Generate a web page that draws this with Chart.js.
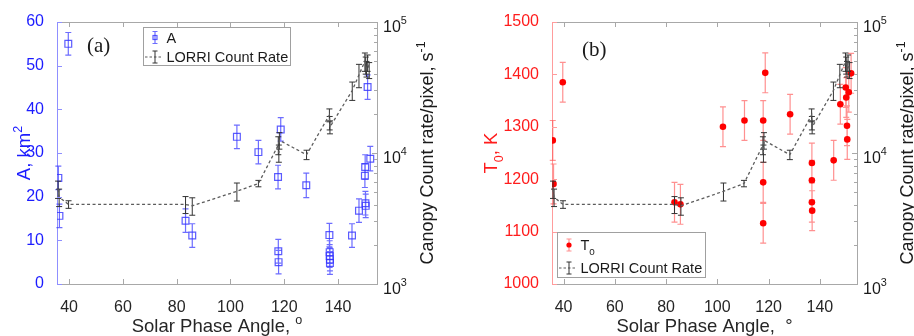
<!DOCTYPE html>
<html>
<head>
<meta charset="utf-8">
<title>Canopy fits vs solar phase angle</title>
<script src="https://cdn.jsdelivr.net/npm/chart.js@4.4.1/dist/chart.umd.min.js"></script>
<style>
  body { margin: 0; background: #fff; }
  #row { display: flex; width: 914px; height: 336px; }
  canvas { display: block; }
</style>
</head>
<body>
<div id="row">
  <canvas id="chartA" width="457" height="336"></canvas>
  <canvas id="chartB" width="457" height="336"></canvas>
</div>
<script>
'use strict';

// fitted area A (km^2) and its error, per solar phase angle (deg)
const aPhase = [36.0, 36.4, 39.7, 83.3, 85.8, 102.4, 110.4, 117.7, 117.8, 117.9, 118.7, 128.2,
  136.8, 136.9, 136.9, 137.0, 137.0, 145.2, 147.8, 150.0, 150.1, 150.2, 150.3, 151.0, 152.0];
const aValues = [24.3, 15.6, 55.0, 14.5, 11.1, 33.7, 30.2, 24.5, 7.5, 5.0, 35.4, 22.6,
  11.2, 7.3, 6.4, 5.6, 4.8, 11.1, 16.8, 24.8, 26.8, 18.5, 17.9, 45.1, 28.7];
const aErr = [2.7, 2.7, 2.6, 2.7, 2.7, 2.7, 2.7, 2.7, 2.7, 2.7, 2.7, 2.8,
  2.7, 2.6, 2.6, 2.6, 2.6, 2.7, 2.7, 2.7, 2.8, 2.7, 2.7, 2.8, 2.8];

// fitted temperature T0 (K) and its error
const tPhase = [35.8, 36.1, 39.7, 83.3, 85.6, 102.2, 110.6, 117.9, 117.9, 117.9, 118.7, 128.4,
  136.9, 136.9, 136.9, 137.0, 145.4, 148.0, 150.1, 150.3, 150.6, 150.7, 151.3, 152.2];
const tValues = [1274, 1191, 1385, 1156, 1152, 1300, 1312, 1312, 1194, 1116, 1403, 1324,
  1231, 1198, 1156, 1140, 1236, 1343, 1375, 1356, 1302, 1276, 1366, 1402];
const tErr = [38, 38, 38, 38, 38, 38, 38, 38, 38, 38, 38, 38,
  38, 38, 38, 38, 38, 38, 38, 38, 38, 38, 38, 38];

// LORRI canopy count rate per pixel (s^-1)
const lorriPhase = [35.9, 36.3, 39.8, 83.3, 85.8, 102.4, 110.4, 117.8, 118.0, 118.2, 128.3,
  136.8, 136.9, 137.0, 145.3, 147.8, 150.0, 150.3, 150.6, 151.0, 151.6];
const lorriRate = [5300, 4600, 4050, 4050, 3950, 5100, 5850, 11500, 10000, 12500, 9700,
  19500, 17000, 15800, 30000, 39500, 50000, 47000, 44000, 49000, 43000];
const lorriErr = [800, 700, 270, 600, 600, 800, 330, 1800, 1500, 1800, 800,
  2200, 2000, 1800, 4800, 8000, 8000, 7000, 6000, 7000, 6000];

const xTicks = [40, 60, 80, 100, 120, 140];
const aTicks = [0, 10, 20, 30, 40, 50, 60];
const tTicks = [1000, 1100, 1200, 1300, 1400, 1500];
const rateTicks = [1e3, 1e4, 1e5];

const SANS = '"Liberation Sans", Arial, sans-serif';
const SERIF = '"Liberation Serif", "Times New Roman", serif';
const GREY = '#a8a8a8';

function points(xs, ys) {
  return xs.map((x, i) => ({ x: x, y: ys[i] }));
}

// text built from runs, some raised (sup) or lowered (sub)
function runSize(r, size) {
  return (r.sup || r.sub) ? size * 0.68 : size;
}
function runsWidth(ctx, runs, size) {
  let w = 0;
  runs.forEach(r => {
    ctx.font = runSize(r, size) + 'px ' + SANS;
    w += ctx.measureText(r.t).width;
  });
  return w;
}
function drawRuns(ctx, runs, x, y, size, color, align) {
  let cx = x;
  const w = runsWidth(ctx, runs, size);
  if (align === 'center') cx -= w / 2;
  else if (align === 'right') cx -= w;
  ctx.fillStyle = color;
  ctx.textAlign = 'left';
  ctx.textBaseline = 'alphabetic';
  runs.forEach(r => {
    ctx.font = runSize(r, size) + 'px ' + SANS;
    const dy = r.sup ? -size * 0.45 : r.sub ? size * 0.3 : 0;
    ctx.fillText(r.t, cx, y + dy);
    cx += ctx.measureText(r.t).width;
  });
}

function vbar(ctx, x, y1, y2, cap) {
  ctx.moveTo(x, y1); ctx.lineTo(x, y2);
  ctx.moveTo(x - cap, y1); ctx.lineTo(x + cap, y1);
  ctx.moveTo(x - cap, y2); ctx.lineTo(x + cap, y2);
}

// vertical error bars, drawn just under each dataset's own marks
const errorBars = {
  id: 'errorBars',
  beforeDatasetDraw(chart, args) {
    const ds = chart.data.datasets[args.index];
    if (!ds.errors) return;
    const ctx = chart.ctx;
    const xs = chart.scales.x, ys = chart.scales[ds.yAxisID];
    ctx.save();
    ctx.strokeStyle = ds.errColor;
    ctx.lineWidth = ds.errWidth || 1.2;
    ctx.beginPath();
    ds.data.forEach((p, i) => {
      const e = ds.errors[i];
      const px = xs.getPixelForValue(p.x);
      vbar(ctx, px, ys.getPixelForValue(p.y + e), ys.getPixelForValue(p.y - e), 3);
    });
    ctx.stroke();
    ctx.restore();
  }
};

function legendSymbol(ctx, ds, x, y) {
  ctx.save();
  if (ds.showLine) {
    ctx.strokeStyle = ds.borderColor;
    ctx.lineWidth = 1.2;
    ctx.setLineDash([2.5, 2]);
    ctx.beginPath();
    ctx.moveTo(x - 10, y); ctx.lineTo(x + 8, y);
    ctx.stroke();
    ctx.setLineDash([]);
  }
  ctx.strokeStyle = ds.errColor;
  ctx.lineWidth = ds.errWidth || 1.2;
  ctx.beginPath();
  vbar(ctx, x, y - 6, y + 6, 2.5);
  ctx.stroke();
  if (ds.pointStyle === 'rect') {
    ctx.strokeStyle = ds.borderColor;
    ctx.strokeRect(x - 2, y - 2, 4, 4);
  } else if (ds.pointRadius > 0) {
    ctx.fillStyle = ds.backgroundColor;
    ctx.beginPath();
    ctx.arc(x, y, 2.6, 0, Math.PI * 2);
    ctx.fill();
  }
  ctx.restore();
}

// box edges, inward ticks, log labels, axis titles, tag and legend
function framePlugin(cfg) {
  return {
    id: 'frame',
    afterDraw(chart) {
      const ctx = chart.ctx;
      const { left, right, top, bottom } = chart.chartArea;
      const xs = chart.scales.x, ys = chart.scales.y, rs = chart.scales.y2;
      ctx.save();
      ctx.lineWidth = 1;

      ctx.strokeStyle = GREY;
      ctx.beginPath();
      ctx.moveTo(left, top + 0.5); ctx.lineTo(right, top + 0.5);
      xTicks.forEach(v => {
        const px = Math.round(xs.getPixelForValue(v)) + 0.5;
        ctx.moveTo(px, bottom); ctx.lineTo(px, bottom - 5);
        ctx.moveTo(px, top); ctx.lineTo(px, top + 5);
      });
      for (let d = 1e3; d < 1e5; d *= 10) {
        for (let m = 1; m < 10; m++) {
          const py = Math.round(rs.getPixelForValue(d * m)) + 0.5;
          ctx.moveTo(right, py); ctx.lineTo(right - (m === 1 ? 5 : 3), py);
        }
      }
      ctx.stroke();

      ctx.strokeStyle = cfg.axisColor;
      ctx.beginPath();
      ys.ticks.forEach(t => {
        const py = Math.round(ys.getPixelForValue(t.value)) + 0.5;
        ctx.moveTo(left, py); ctx.lineTo(left + 5, py);
      });
      ctx.stroke();

      // right log axis labels 10^n
      rateTicks.forEach(v => {
        const py = rs.getPixelForValue(v);
        drawRuns(ctx, [{ t: '10' }, { t: String(Math.round(Math.log10(v))), sup: true }],
          right + 6, py + 9.5, 16, '#1a1a1a', 'left');
      });

      const cy = (top + bottom) / 2;
      ctx.save();
      ctx.translate(cfg.leftTitleX, cy);
      ctx.rotate(-Math.PI / 2);
      drawRuns(ctx, cfg.leftTitle, 0, 0, 18.5, cfg.labelColor, 'center');
      ctx.restore();

      ctx.save();
      ctx.translate(right + 56, cy);
      ctx.rotate(-Math.PI / 2);
      drawRuns(ctx, [{ t: 'Canopy Count rate/pixel, s' }, { t: '-1', sup: true }], 0, 0, 18, '#1a1a1a', 'center');
      ctx.restore();

      drawRuns(ctx, cfg.xTitle, (left + right) / 2, 332, 18.5, '#262626', 'center');

      ctx.font = '21px ' + SERIF;
      ctx.fillStyle = '#1a1a1a';
      ctx.textAlign = 'left';
      ctx.fillText(cfg.tag, left + 30, cfg.tagY);

      // legend box
      const lg = cfg.legend;
      const bx = left + lg.x, by = lg.fromBottom ? bottom - lg.fromBottom - lg.h : top + lg.y;
      ctx.fillStyle = '#fff';
      ctx.fillRect(bx, by, lg.w, lg.h);
      ctx.strokeStyle = '#a0a0a0';
      ctx.strokeRect(Math.round(bx) + 0.5, Math.round(by) + 0.5, lg.w, lg.h);
      chart.data.datasets.forEach((ds, i) => {
        const ry = by + lg.rows[i];
        legendSymbol(ctx, ds, bx + 12, ry);
        drawRuns(ctx, ds.legendRuns || [{ t: ds.label }], bx + 23.5, ry + 5.3, 14.5, '#1a1a1a', 'left');
      });
      ctx.restore();
    }
  };
}

function lorriDataset() {
  return {
    label: 'LORRI Count Rate',
    data: points(lorriPhase, lorriRate),
    errors: lorriErr,
    yAxisID: 'y2',
    order: 1,
    showLine: true,
    borderColor: '#5c5c5c',
    borderWidth: 1.3,
    borderDash: [3, 2.5],
    pointRadius: 0,
    errColor: '#333333',
    errWidth: 1
  };
}

function makeChart(canvas, cfg) {
  return new Chart(canvas, {
    type: 'scatter',
    data: { datasets: cfg.datasets },
    options: {
      responsive: false,
      animation: false,
      layout: { padding: { top: 22 } },
      plugins: { legend: { display: false }, tooltip: { enabled: false } },
      scales: {
        x: {
          type: 'linear', min: 35.5, max: 154.5,
          afterBuildTicks: s => { s.ticks = xTicks.map(v => ({ value: v })); },
          afterFit: s => { s.height = 52; },
          grid: { display: false },
          border: { color: GREY },
          ticks: { color: '#262626', font: { family: SANS, size: 16 }, padding: 6, maxRotation: 0,
            callback: v => String(v) }
        },
        y: {
          type: 'linear', position: 'left', min: cfg.yTicks[0], max: cfg.yTicks[cfg.yTicks.length - 1],
          afterBuildTicks: s => { s.ticks = cfg.yTicks.map(v => ({ value: v })); },
          afterFit: s => { s.width = cfg.leftWidth; },
          grid: { display: false },
          border: { color: cfg.axisColor },
          ticks: { color: cfg.labelColor, font: { family: SANS, size: 16 }, padding: 5,
            callback: v => String(v) }
        },
        y2: {
          type: 'logarithmic', position: 'right', min: 1e3, max: 1e5,
          afterBuildTicks: s => { s.ticks = rateTicks.map(v => ({ value: v })); },
          afterFit: s => { s.width = cfg.rightWidth; },
          grid: { display: false },
          border: { color: GREY },
          ticks: { display: false }
        }
      }
    },
    plugins: [errorBars, framePlugin(cfg)]
  });
}

makeChart(document.getElementById('chartA'), {
  leftWidth: 57, rightWidth: 80,
  yTicks: aTicks,
  axisColor: '#8f8fff', labelColor: '#1c1cff',
  leftTitle: [{ t: 'A, km' }, { t: '2', sup: true }], leftTitleX: 30,
  xTitle: [{ t: 'Solar Phase Angle, ' }, { t: 'o', sup: true }],
  tag: '(a)', tagY: 52,
  legend: { x: 86, y: 5, w: 147, h: 38, rows: [10.5, 30] },
  datasets: [{
    label: 'A',
    data: points(aPhase, aValues),
    errors: aErr,
    yAxisID: 'y',
    order: 2,
    pointStyle: 'rect',
    pointRadius: 4.8,
    borderWidth: 1.2,
    borderColor: 'rgba(50, 50, 255, 0.8)',
    backgroundColor: 'rgba(255, 255, 255, 0)',
    errColor: 'rgba(60, 60, 255, 0.75)'
  }, lorriDataset()]
});

makeChart(document.getElementById('chartB'), {
  leftWidth: 95, rightWidth: 57,
  yTicks: tTicks,
  axisColor: '#ff9c9c', labelColor: '#ff1c1c',
  leftTitle: [{ t: 'T' }, { t: '0', sub: true }, { t: ', K' }], leftTitleX: 40,
  xTitle: [{ t: 'Solar Phase Angle,  ' }, { t: '°' }],
  tag: '(b)', tagY: 55.5,
  legend: { x: 5, fromBottom: 7, w: 148, h: 45, rows: [13, 36] },
  datasets: [{
    label: 'T0',
    legendRuns: [{ t: 'T' }, { t: '0', sub: true }],
    data: points(tPhase, tValues),
    errors: tErr,
    yAxisID: 'y',
    order: 2,
    pointStyle: 'circle',
    pointRadius: 3.3,
    borderWidth: 0,
    backgroundColor: '#ff0000',
    errColor: 'rgba(255, 70, 70, 0.6)'
  }, lorriDataset()]
});
</script>
</body>
</html>
